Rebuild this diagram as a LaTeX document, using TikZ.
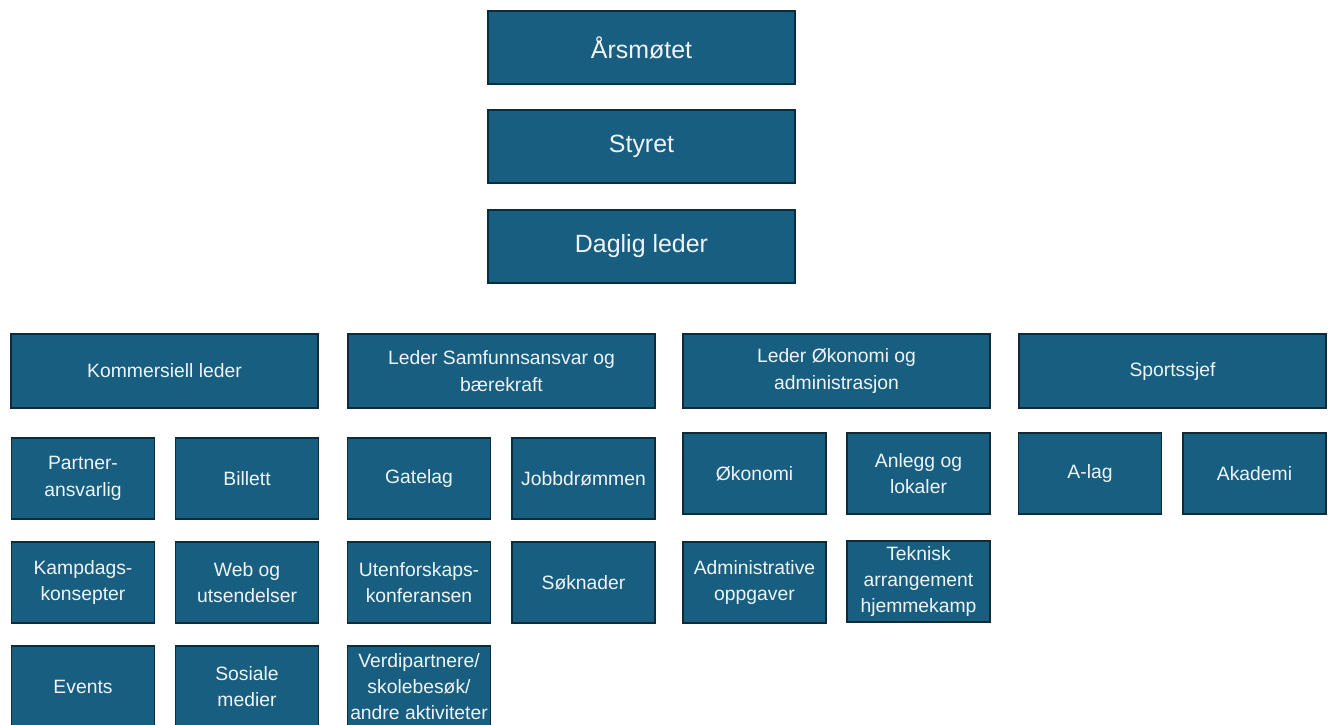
\documentclass[tikz,border=0pt]{standalone}
\usepackage{fontspec}
\setmainfont{Liberation Sans}
\definecolor{boxfill}{HTML}{175E80}
\definecolor{boxline}{HTML}{0C2B3B}
\definecolor{boxtext}{HTML}{F0F4F7}
\tikzset{
  orgbox/.style={draw=boxline, line width=1.1pt, fill=boxfill, text=boxtext,
    align=center, inner sep=1pt},
  topbox/.style={orgbox, minimum width=6.14cm, minimum height=1.46cm,
    font=\fontsize{14.2}{16}\selectfont},
  leadbox/.style={orgbox, minimum width=6.14cm, minimum height=1.48cm,
    font=\fontsize{11}{15}\selectfont},
  subbox/.style={orgbox, minimum width=2.86cm, minimum height=1.62cm,
    font=\fontsize{11}{15}\selectfont}
}
\begin{document}
\begin{tikzpicture}[x=0.02cm, y=-0.02cm]
  \useasboundingbox (0,0) rectangle (1332,724);
  \clip (0,0) rectangle (1332,724);
  \node[topbox] (aarsmote) at (641.5, 47.5) {Årsmøtet};
  \node[topbox] (styret) at (641.5, 146.5) {Styret};
  \node[topbox] (daglig) at (641.5, 246.5) {Daglig leder};

  \node[leadbox] (kommersiell) at (164.5, 371) {Kommersiell leder};
  \node[leadbox] (samfunn) at (501.5, 371) {Leder Samfunnsansvar og\\bærekraft};
  \node[leadbox] (okonomileder) at (836.5, 371) {Leder Økonomi og\\administrasjon};
  \node[leadbox] (sportssjef) at (1172.5, 371) {Sportssjef};

  \node[subbox] (partner) at (83, 478.5) {Partner-\\ansvarlig};
  \node[subbox] (billett) at (247, 478.5) {Billett};
  \node[subbox] (kampdag) at (83, 582.5) {Kampdags-\\konsepter};
  \node[subbox] (web) at (247, 582.5) {Web og\\utsendelser};
  \node[subbox] (events) at (83, 686.5) {Events};
  \node[subbox] (sosiale) at (247, 686.5) {Sosiale\\medier};

  \node[subbox] (gatelag) at (419, 478.5) {Gatelag};
  \node[subbox] (jobb) at (583.5, 478.5) {Jobbdrømmen};
  \node[subbox] (utenfor) at (419, 582.5) {Utenforskaps-\\konferansen};
  \node[subbox] (soknader) at (583.5, 582.5) {Søknader};
  \node[subbox] (verdi) at (419, 686.5) {Verdipartnere/\\skolebesøk/\\andre aktiviteter};

  \node[subbox] (okonomi) at (754.5, 473.5) {Økonomi};
  \node[subbox] (anlegg) at (918.5, 473.5) {Anlegg og\\lokaler};
  \node[subbox] (admin) at (754.5, 582.5) {Administrative\\oppgaver};
  \node[subbox] (teknisk) at (918.5, 581.5) {Teknisk\\arrangement\\hjemmekamp};

  \node[subbox] (alag) at (1090, 473.5) {A-lag};
  \node[subbox] (akademi) at (1254.5, 473.5) {Akademi};
\end{tikzpicture}
\end{document}
